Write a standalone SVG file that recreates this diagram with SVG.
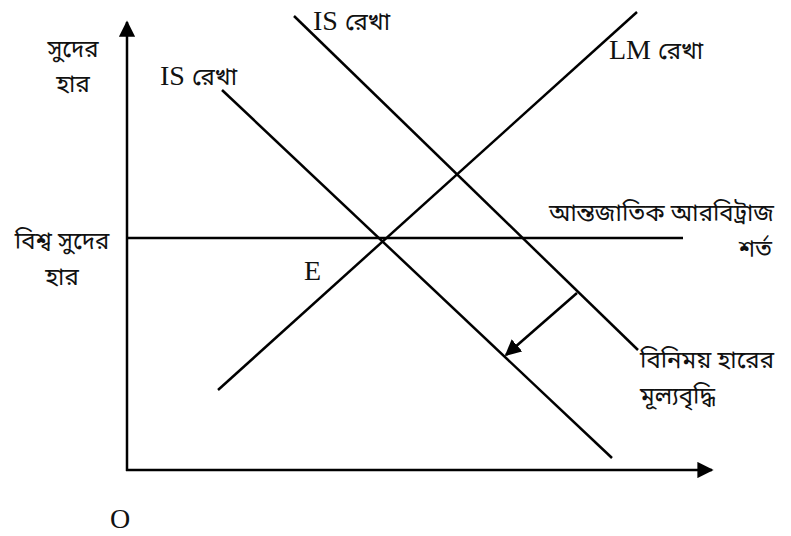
<svg xmlns="http://www.w3.org/2000/svg" width="791" height="536" viewBox="0 0 791 536">
<style>
.ln{stroke:#000;stroke-width:2.5;fill:none}
.lt{font-family:"Liberation Serif","Times New Roman",serif;font-size:28px;fill:#111}
.bn{font-family:"Noto Sans Bengali","Noto Serif Bengali","Lohit Bengali","FreeSerif","Noto Sans",sans-serif;font-size:24px;fill:#111}
</style>
<defs>
<marker id="ah" viewBox="0 0 10 10" refX="9" refY="5" markerWidth="6.5" markerHeight="6.5" markerUnits="strokeWidth" orient="auto">
<path d="M0,0 L10,5 L0,10 z" fill="#000"/>
</marker>
</defs>
<rect width="791" height="536" fill="#fff"/>
<g id="connectors">
<line id="y-axis" class="ln" x1="127" y1="471" x2="127" y2="22" marker-end="url(#ah)"/>
<line id="x-axis" class="ln" x1="126" y1="470" x2="712" y2="470" marker-end="url(#ah)"/>
<line id="world-rate" class="ln" x1="127" y1="238" x2="683" y2="238"/>
<line id="lm" class="ln" x1="218" y1="390" x2="637" y2="12"/>
<line id="is1" class="ln" x1="222" y1="90" x2="612" y2="458"/>
<line id="is2" class="ln" x1="294" y1="16" x2="638" y2="350"/>
<line id="shift" class="ln" stroke-width="2" x1="577" y1="293" x2="506" y2="355" marker-end="url(#ah)"/>
</g>
<g id="y-label"><text class="bn" x="73" y="57" text-anchor="middle">সুদের</text><text class="bn" x="73" y="92" text-anchor="middle">হার</text></g>
<g id="is2-label"><text class="lt" x="313" y="30">IS <tspan class="bn">রেখা</tspan></text></g>
<g id="is1-label"><text class="lt" x="160" y="85">IS <tspan class="bn">রেখা</tspan></text></g>
<g id="lm-label"><text class="lt" x="609" y="59">LM <tspan class="bn">রেখা</tspan></text></g>
<g id="world-label"><text class="bn" x="62" y="249" text-anchor="middle">বিশ্ব সুদের</text><text class="bn" x="62" y="285" text-anchor="middle">হার</text></g>
<g id="e-label"><text class="lt" x="304" y="280">E</text></g>
<g id="arb-label"><text class="bn" x="774" y="221" text-anchor="end">আন্তজাতিক আরবিট্রাজ</text><text class="bn" x="772" y="257" text-anchor="end">শর্ত</text></g>
<g id="fx-label"><text class="bn" x="640" y="368">বিনিময় হারের</text><text class="bn" x="640" y="404">মূল্যবৃদ্ধি</text></g>
<g id="o-label"><text class="lt" x="110" y="528">O</text></g>
</svg>
